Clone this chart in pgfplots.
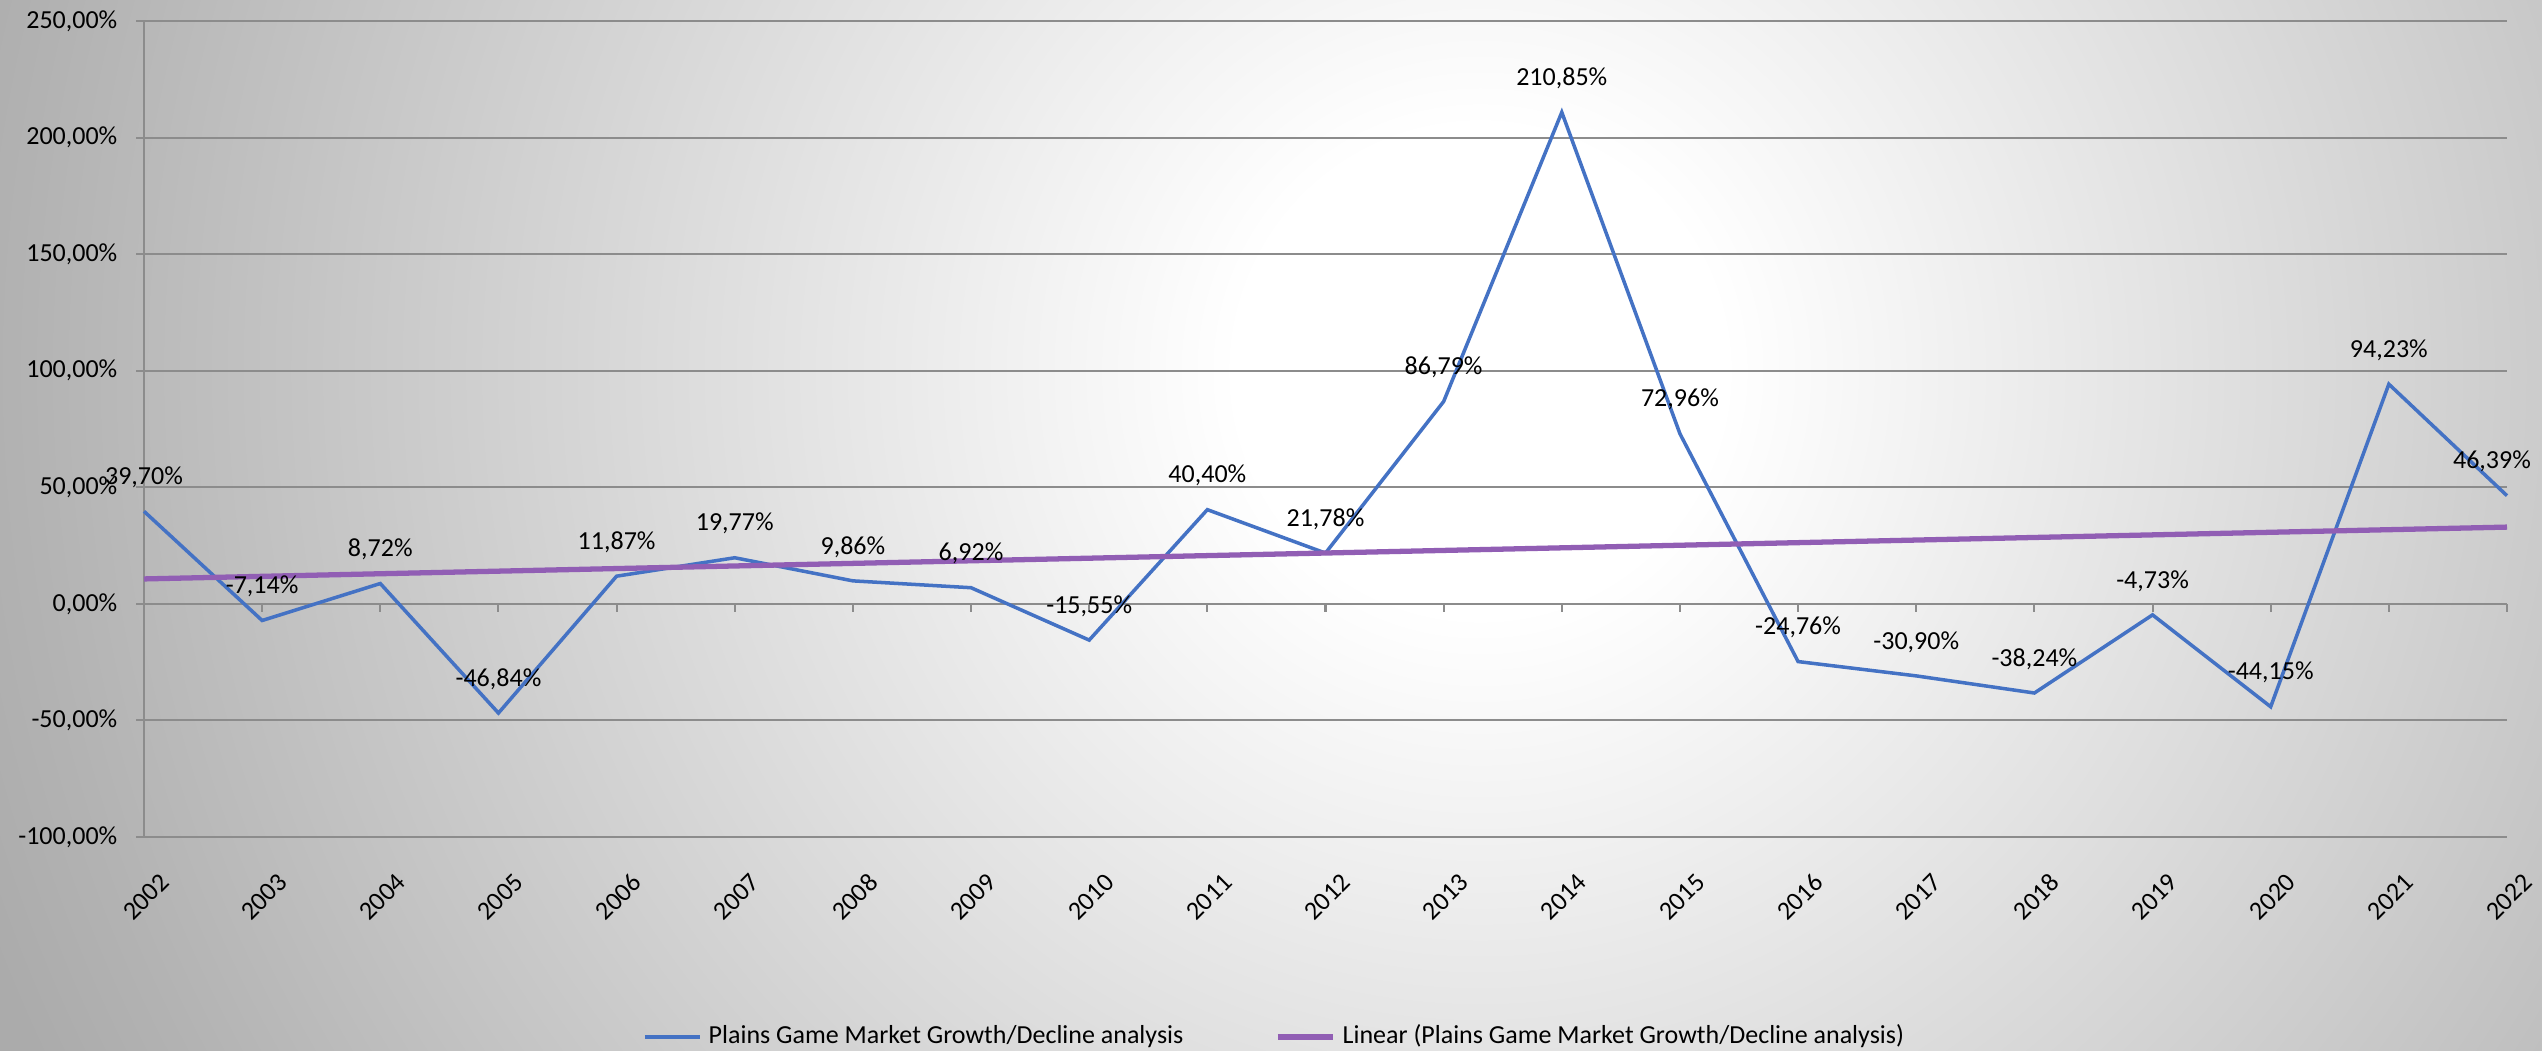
\documentclass[border=0pt]{standalone}
\usepackage{fontspec}
\setmainfont{Carlito}
\usepackage{pgfplots}
\pgfplotsset{compat=1.18}
\definecolor{xlblue}{RGB}{68,114,196}
\definecolor{xlpurple}{RGB}{145,94,180}
\definecolor{gridgray}{RGB}{140,140,140}
% tikz maps the path box to the inner 25bp radius of the shading
\pgfdeclareradialshading{chartbg}{\pgfpoint{0bp}{0bp}}{color(0bp)=(white); color(3.8bp)=(white); color(22.8bp)=(black!30); color(25bp)=(black!33); color(50bp)=(black!33)}
\newcommand{\lblfont}{\fontsize{7.4}{9}\selectfont}

\begin{document}
\begin{tikzpicture}
\path[use as bounding box] (0,0) rectangle (254.2mm,105.1mm);
\clip (0,0) rectangle (254.2mm,105.1mm);
\fill[black!33] (0,0) rectangle (254.2mm,105.1mm);
\shade[shading=chartbg] (148mm,68mm) circle (160mm);
\begin{axis}[
    at={(14.4mm,21.4mm)}, anchor=south west,
    scale only axis, width=236.3mm, height=81.6mm,
    xmin=2002, xmax=2022, ymin=-100, ymax=250,
    clip=false,
    axis x line*=middle, axis y line*=left,
    hide obscured x ticks=false,
    axis line style={-, gridgray, line width=0.6pt},
    tick align=outside, major tick length=0.8mm,
    tick style={gridgray, line width=0.6pt},
    ymajorgrids, major grid style={gridgray, line width=0.6pt},
    xtick={2002,2003,...,2022},
    /pgf/number format/assume math mode=true,
    /pgf/number format/1000 sep={},
    ytick={-100,-50,...,250},
    yticklabels={{-100,00\%},{-50,00\%},{0,00\%},{50,00\%},{100,00\%},{150,00\%},{200,00\%},{250,00\%}},
    ticklabel style={font=\lblfont},
    xticklabel style={xshift=2.1mm, yshift=-26.6mm, rotate=45, anchor=east, inner sep=0pt},
    yticklabel style={anchor=east, inner sep=0pt, xshift=-1.8mm},
    legend style={at={(0.4795,-0.245)}, anchor=center, draw=none, fill=none,
        font=\lblfont, legend columns=2,
        /tikz/every even column/.append style={column sep=8.5mm}},
    legend image code/.code={\draw[#1] (0mm,0mm) -- (5.5mm,0mm);},
    legend cell align=left,
]
\addplot[xlblue, line width=1.0pt] table {
x y
2002 39.70
2003 -7.14
2004 8.72
2005 -46.84
2006 11.87
2007 19.77
2008 9.86
2009 6.92
2010 -15.55
2011 40.40
2012 21.78
2013 86.79
2014 210.85
2015 72.96
2016 -24.76
2017 -30.90
2018 -38.24
2019 -4.73
2020 -44.15
2021 94.23
2022 46.39
};
\addlegendentry{Plains Game Market Growth/Decline analysis}
\addplot[xlpurple, line width=1.5pt] coordinates {(2002,10.69) (2022,32.92)};
\addlegendentry{Linear (Plains Game Market Growth/Decline analysis)}

\addplot[draw=none, forget plot, nodes near coords, point meta=explicit symbolic,
    every node near coord/.style={anchor=center, yshift=3.4mm, font=\lblfont, text=black}]
    table[meta=lab] {
x y lab
2002 39.70 39,70\%
2003 -7.14 -7,14\%
2004 8.72 8,72\%
2005 -46.84 -46,84\%
2006 11.87 11,87\%
2007 19.77 19,77\%
2008 9.86 9,86\%
2009 6.92 6,92\%
2010 -15.55 -15,55\%
2011 40.40 40,40\%
2012 21.78 21,78\%
2013 86.79 86,79\%
2014 210.85 210,85\%
2015 72.96 72,96\%
2016 -24.76 -24,76\%
2017 -30.90 -30,90\%
2018 -38.24 -38,24\%
2019 -4.73 -4,73\%
2020 -44.15 -44,15\%
2021 94.23 94,23\%
};
\addplot[draw=none, forget plot, nodes near coords, point meta=explicit symbolic,
    every node near coord/.style={anchor=center, yshift=3.4mm, xshift=-1.5mm, font=\lblfont, text=black}]
    table[meta=lab] {
x y lab
2022 46.39 46,39\%
};
\end{axis}
\end{tikzpicture}
\end{document}
